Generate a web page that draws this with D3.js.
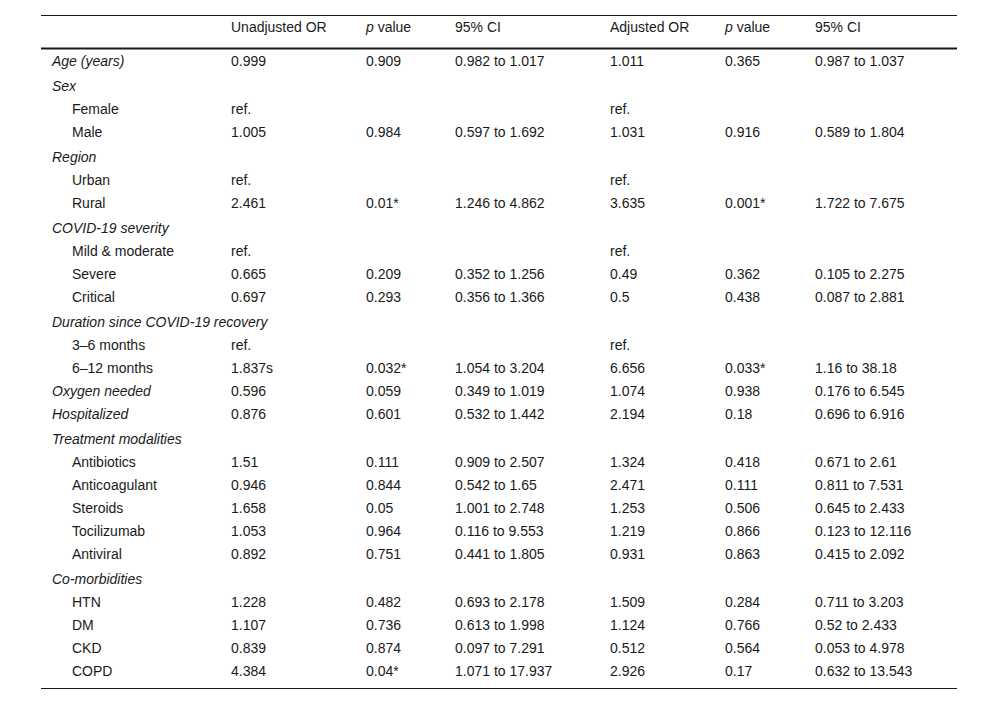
<!DOCTYPE html>
<html>
<head>
<meta charset="utf-8">
<script src="https://cdn.jsdelivr.net/npm/d3@7"></script>
<style>
  body { margin: 0; background: #fff; }
  svg { display: block; font-family: "Liberation Sans", Arial, sans-serif; }
</style>
</head>
<body>
<div id="table"></div>
<script>
// header of the table
const headers = ["", "Unadjusted OR", "p value", "95% CI", "Adjusted OR", "p value", "95% CI"];

// row labels; kind: "g" = single italic row, "h" = italic section heading, "s" = indented level
const rowLabels = ["Age (years)", "Sex", "Female", "Male", "Region", "Urban", "Rural",
    "COVID-19 severity", "Mild & moderate", "Severe", "Critical",
    "Duration since COVID-19 recovery", "3\u20136 months", "6\u201312 months",
    "Oxygen needed", "Hospitalized", "Treatment modalities",
    "Antibiotics", "Anticoagulant", "Steroids", "Tocilizumab", "Antiviral",
    "Co-morbidities", "HTN", "DM", "CKD", "COPD"];
const rowKind = ["g", "h", "s", "s", "h", "s", "s",
    "h", "s", "s", "s",
    "h", "s", "s",
    "g", "g", "h",
    "s", "s", "s", "s", "s",
    "h", "s", "s", "s", "s"];

const unadjOR = ["0.999", "", "ref.", "1.005", "", "ref.", "2.461",
    "", "ref.", "0.665", "0.697",
    "", "ref.", "1.837s",
    "0.596", "0.876", "",
    "1.51", "0.946", "1.658", "1.053", "0.892",
    "", "1.228", "1.107", "0.839", "4.384"];
const unadjP = ["0.909", "", "", "0.984", "", "", "0.01*",
    "", "", "0.209", "0.293",
    "", "", "0.032*",
    "0.059", "0.601", "",
    "0.111", "0.844", "0.05", "0.964", "0.751",
    "", "0.482", "0.736", "0.874", "0.04*"];
const unadjCI = ["0.982 to 1.017", "", "", "0.597 to 1.692", "", "", "1.246 to 4.862",
    "", "", "0.352 to 1.256", "0.356 to 1.366",
    "", "", "1.054 to 3.204",
    "0.349 to 1.019", "0.532 to 1.442", "",
    "0.909 to 2.507", "0.542 to 1.65", "1.001 to 2.748", "0.116 to 9.553", "0.441 to 1.805",
    "", "0.693 to 2.178", "0.613 to 1.998", "0.097 to 7.291", "1.071 to 17.937"];
const adjOR = ["1.011", "", "ref.", "1.031", "", "ref.", "3.635",
    "", "ref.", "0.49", "0.5",
    "", "ref.", "6.656",
    "1.074", "2.194", "",
    "1.324", "2.471", "1.253", "1.219", "0.931",
    "", "1.509", "1.124", "0.512", "2.926"];
const adjP = ["0.365", "", "", "0.916", "", "", "0.001*",
    "", "", "0.362", "0.438",
    "", "", "0.033*",
    "0.938", "0.18", "",
    "0.418", "0.111", "0.506", "0.866", "0.863",
    "", "0.284", "0.766", "0.564", "0.17"];
const adjCI = ["0.987 to 1.037", "", "", "0.589 to 1.804", "", "", "1.722 to 7.675",
    "", "", "0.105 to 2.275", "0.087 to 2.881",
    "", "", "1.16 to 38.18",
    "0.176 to 6.545", "0.696 to 6.916", "",
    "0.671 to 2.61", "0.811 to 7.531", "0.645 to 2.433", "0.123 to 12.116", "0.415 to 2.092",
    "", "0.711 to 3.203", "0.52 to 2.433", "0.053 to 4.978", "0.632 to 13.543"];

function main() {
    const width = 1000;
    const height = 705;
    const left = 41, right = 957;

    const svg = d3.select("#table").append("svg")
        .attr("width", width)
        .attr("height", height);

    const colX = d3.scaleOrdinal()
        .domain([0, 1, 2, 3, 4, 5, 6])
        .range([52, 231, 366, 455, 610, 725, 815]);

    // section headings get a little more room above them
    const steps = rowKind.map((k, i) => i === 0 ? 0 : (k === "h" ? 25 : 23));
    const offsets = Array.from(d3.cumsum(steps));
    const baseline = d3.scaleLinear()
        .domain([0, offsets[offsets.length - 1]])
        .range([65.5, 675.5]);

    const ink = "#1a1a1a";

    // rules
    svg.append("line").attr("x1", left).attr("x2", right).attr("y1", 15.5).attr("y2", 15.5)
        .attr("stroke", ink).attr("stroke-width", 1);
    svg.append("line").attr("x1", left).attr("x2", right).attr("y1", 48.5).attr("y2", 48.5)
        .attr("stroke", ink).attr("stroke-width", 2);
    svg.append("line").attr("x1", left).attr("x2", right).attr("y1", 688.5).attr("y2", 688.5)
        .attr("stroke", ink).attr("stroke-width", 1);

    // header
    const head = svg.append("g");
    headers.forEach((h, i) => {
        if (!h) return;
        const t = head.append("text")
            .attr("x", colX(i))
            .attr("y", 32)
            .attr("font-size", 14)
            .attr("fill", ink);
        if (h === "p value") {
            t.append("tspan").attr("font-style", "italic").text("p");
            t.append("tspan").text(" value");
        } else {
            t.text(h);
        }
    });

    const columns = [rowLabels, unadjOR, unadjP, unadjCI, adjOR, adjP, adjCI];
    const cells = [];
    rowLabels.forEach((lab, r) => {
        columns.forEach((col, c) => {
            if (col[r]) cells.push({ r: r, c: c, text: col[r] });
        });
    });

    svg.append("g").selectAll("text")
        .data(cells)
        .join("text")
        .attr("x", d => d.c === 0 && rowKind[d.r] === "s" ? colX(0) + 20 : colX(d.c))
        .attr("y", d => baseline(offsets[d.r]))
        .attr("font-size", 14)
        .attr("font-style", d => d.c === 0 && rowKind[d.r] !== "s" ? "italic" : "normal")
        .attr("fill", ink)
        .text(d => d.text);
}
main();
</script>
</body>
</html>
